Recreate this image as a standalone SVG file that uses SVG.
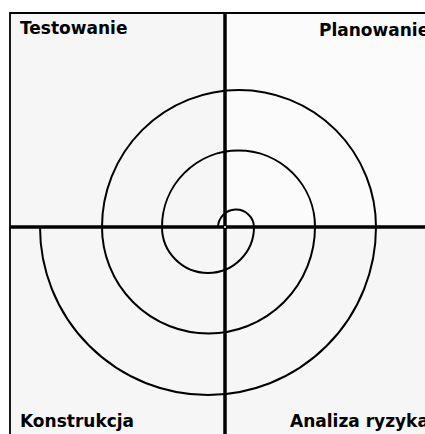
<svg xmlns="http://www.w3.org/2000/svg" width="425" height="434" viewBox="0 0 425 434">
<style>
.lbl{font-family:"DejaVu Sans","Verdana",sans-serif;font-weight:bold;font-size:17px;fill:#000}
.axis{stroke:#000;stroke-width:3.5;fill:none}
.spiral{stroke:#000;stroke-width:2;fill:none}
</style>
<rect x="0" y="0" width="425" height="434" fill="#fff"/>
<g id="quadrants">
<rect x="10" y="13" width="215" height="214" fill="#f6f6f6"/>
<rect x="225" y="13" width="200" height="214" fill="#fbfbfb"/>
<rect x="10" y="227" width="215" height="207" fill="#f6f6f6"/>
<rect x="225" y="227" width="200" height="207" fill="#f6f6f6"/>
<path d="M10,434 V13 H425" stroke="#000" stroke-width="1.8" fill="none"/>
</g>
<g id="connectors">
<line class="axis" x1="225" y1="13" x2="225" y2="434"/>
<line class="axis" x1="10" y1="227" x2="425" y2="227"/>
<path class="spiral" d="M218,228 A18,18 0 0 1 254,227 A46,46 0 0 1 162,227 A76.5,76.5 0 0 1 315,227 A106.5,106.5 0 0 1 102,227 A137,137 0 0 1 376,227 A168,168 0 0 1 40,227"/>
<circle cx="225" cy="227" r="1" fill="#fff"/>
</g>
<g id="testowanie"><text class="lbl" x="20" y="34">Testowanie</text></g>
<g id="planowanie"><text class="lbl" x="319" y="36">Planowanie</text></g>
<g id="konstrukcja"><text class="lbl" x="20" y="427">Konstrukcja</text></g>
<g id="analiza"><text class="lbl" x="290" y="427">Analiza ryzyka</text></g>
</svg>
